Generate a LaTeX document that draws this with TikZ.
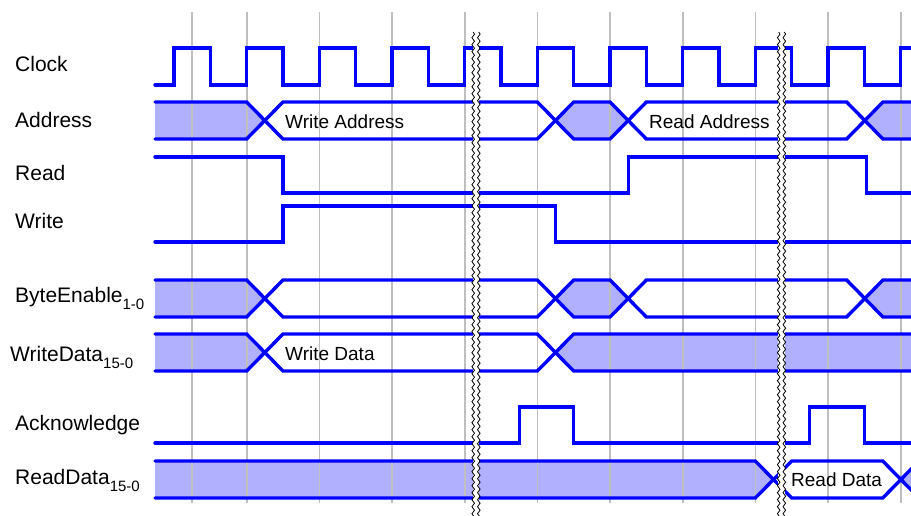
\documentclass[tikz,border=0pt]{standalone}
\usepackage{fontspec}
\setmainfont{Liberation Sans}
\usetikzlibrary{decorations.pathmorphing}
\definecolor{busfill}{RGB}{176,176,255}
\definecolor{sigblue}{RGB}{0,0,255}
\tikzset{
    sig/.style = {draw=sigblue, line width=3.4pt, line cap=round, line join=miter},
    gridline/.style = {draw=black!25, line width=1.6pt},
    shaded/.style = {fill=busfill},
    breakline/.style = {draw=black, line width=0.8pt, decorate, decoration={snake, segment length=7pt, amplitude=1.3pt}},
    siglabel/.style = {anchor=base west, inner sep=0pt, font=\fontsize{21}{25}\selectfont},
    bustext/.style = {anchor=base west, inner sep=0pt, font=\fontsize{19}{23}\selectfont}
}
\newcommand{\lblsub}[1]{\raisebox{-7pt}{\fontsize{15}{15}\selectfont #1}}
\newcommand{\halfw}{18.17}
% bus segment between two crossing points
\newcommand{\segpath}[4]{(#1,{(#3+#4)/2}) -- ({#1+\halfw},#3) -- ({#2-\halfw},#3) -- (#2,{(#3+#4)/2}) -- ({#2-\halfw},#4) -- ({#1+\halfw},#4) -- cycle}
% first bus segment, open on the left
\newcommand{\firstpath}[3]{(155,#2) -- ({#1-\halfw},#2) -- (#1,{(#2+#3)/2}) -- ({#1-\halfw},#3) -- (155,#3)}
\begin{document}
\begin{tikzpicture}[x=1pt, y=-1pt]
\useasboundingbox (0,0) rectangle (911,515);
\clip (0,0) rectangle (911,515);

% signal names
\node[siglabel] (clock) at (15,71) {Clock};
\node[siglabel] (address) at (15,127) {Address};
\node[siglabel] (read) at (15,180) {Read};
\node[siglabel] (write) at (15,228) {Write};
\node[siglabel] (byteenable) at (15,302) {ByteEnable\lblsub{1-0}};
\node[siglabel] (writedata) at (10,361) {WriteData\lblsub{15-0}};
\node[siglabel] (ack) at (15,430) {Acknowledge};
\node[siglabel] (readdata) at (15,484) {ReadData\lblsub{15-0}};

% shaded bus values
\fill[shaded] \firstpath{264.8}{102}{139};
\fill[shaded] \segpath{555.5}{628.2}{102}{139};
\fill[shaded] \segpath{864.8}{1000}{102}{139};
\fill[shaded] \firstpath{264.8}{280}{317};
\fill[shaded] \segpath{555.5}{628.2}{280}{317};
\fill[shaded] \segpath{864.8}{1000}{280}{317};
\fill[shaded] \firstpath{264.8}{334}{371};
\fill[shaded] \segpath{555.5}{1000}{334}{371};
\fill[shaded] \firstpath{773.5}{461}{498};
\fill[shaded] \segpath{900.9}{1000}{461}{498};

% clock grid
\foreach \gx in {192,246.7,319.3,392,464.7,537.3,610,682.7,755.3,828,900.7}
  \draw[gridline] (\gx,12) -- (\gx,503);

% clock
\draw[sig] (155,85) \foreach \k in {0,...,10} {
  -- ({174+72.67*\k},85) -- ({174+72.67*\k},48) -- ({210.33+72.67*\k},48) -- ({210.33+72.67*\k},85) };

% address and byte enable
\foreach \yt/\yb in {102/139, 280/317} {
  \draw[sig] \firstpath{264.8}{\yt}{\yb};
  \draw[sig] \segpath{264.8}{555.5}{\yt}{\yb};
  \draw[sig] \segpath{555.5}{628.2}{\yt}{\yb};
  \draw[sig] \segpath{628.2}{864.8}{\yt}{\yb};
  \draw[sig] \segpath{864.8}{1000}{\yt}{\yb};
}

% read / write strobes
\draw[sig] (155,157) -- (283,157) -- (283,193) -- (628.3,193) -- (628.3,157) -- (866.7,157) -- (866.7,193) -- (1000,193);
\draw[sig] (155,242) -- (283,242) -- (283,206) -- (555.5,206) -- (555.5,242) -- (1000,242);

% write data
\draw[sig] \firstpath{264.8}{334}{371};
\draw[sig] \segpath{264.8}{555.5}{334}{371};
\draw[sig] \segpath{555.5}{1000}{334}{371};

% acknowledge
\draw[sig] (155,443) -- (519.3,443) -- (519.3,407) -- (573.3,407) -- (573.3,443) -- (809.3,443) -- (809.3,407) -- (864.3,407) -- (864.3,443) -- (1000,443);

% read data
\draw[sig] \firstpath{773.5}{461}{498};
\draw[sig] \segpath{773.5}{900.9}{461}{498};
\draw[sig] \segpath{900.9}{1000}{461}{498};

% bus values
\node[bustext] (wraddr) at (285,128) {Write Address};
\node[bustext] (rdaddr) at (649,128) {Read Address};
\node[bustext] (wrdata) at (285,360) {Write Data};
\node[bustext] (rddata) at (791,486) {Read Data};

% time breaks
\foreach \bx in {476,781.5} {
  \fill[white] ({\bx-3.4},32) rectangle ({\bx+3.4},520);
  \draw[breakline] ({\bx-2.8},32) -- ({\bx-2.8},520);
  \draw[breakline] ({\bx+2.8},32) -- ({\bx+2.8},520);
}
\end{tikzpicture}
\end{document}
